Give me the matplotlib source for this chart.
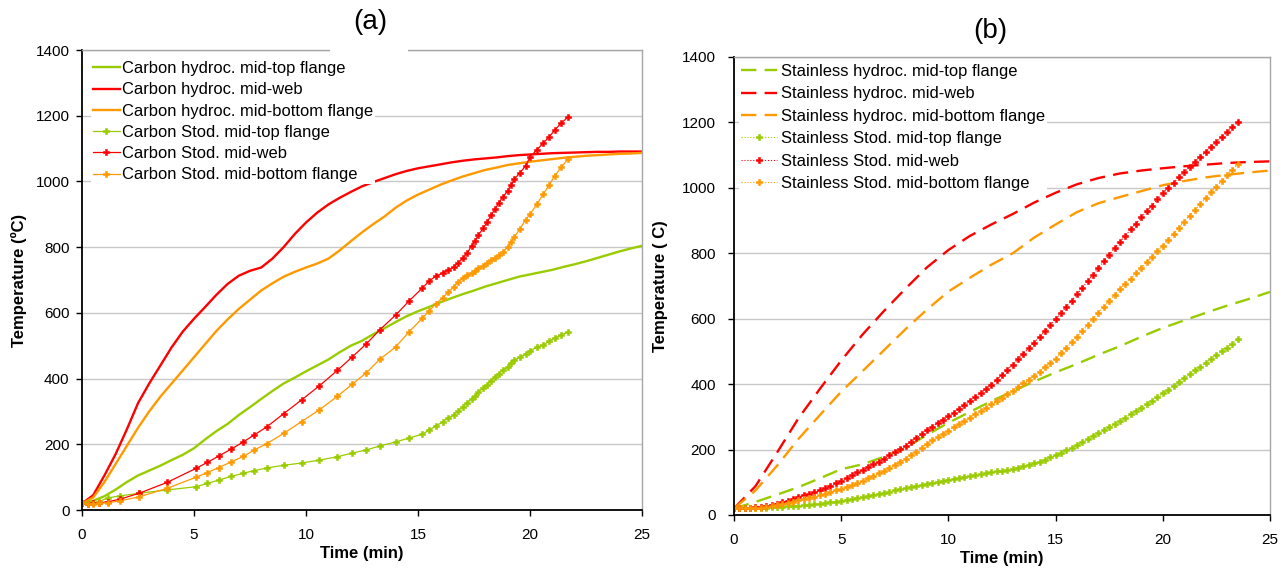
import numpy as np
import matplotlib
matplotlib.use("Agg")
import matplotlib.pyplot as plt
from matplotlib.patches import Rectangle

plt.rcParams['font.family'] = ['Liberation Sans', 'DejaVu Sans']

GREEN = '#99cc00'
RED = '#ff0000'
ORANGE = '#ff9900'

# ---- panel (a): carbon steel ----
# hydrocarbon fire curves, sampled every 0.5 min
t_hyd_a = np.arange(0, 25.01, 0.5)
carbon_hyd_top = [20, 28, 42, 62, 85, 105, 120, 135, 152, 168, 188, 215, 240, 262, 289, 313,
                  338, 362, 385, 403, 422, 440, 458, 480, 500, 515, 535, 553, 572, 590, 605,
                  618, 632, 645, 657, 668, 680, 690, 700, 710, 717, 724, 731, 740, 748, 757,
                  767, 777, 787, 796, 804]
carbon_hyd_web = [20, 45, 105, 170, 245, 325, 385, 440, 495, 543, 582, 618, 655, 688, 713, 728,
                  738, 765, 800, 840, 875, 905, 930, 950, 968, 985, 998, 1010, 1022, 1032, 1040,
                  1046, 1052, 1058, 1063, 1067, 1070, 1073, 1077, 1080, 1082, 1084, 1086, 1087,
                  1088, 1089, 1090, 1090, 1091, 1091, 1091]
carbon_hyd_bot = [20, 38, 85, 140, 195, 250, 300, 345, 385, 425, 465, 505, 545, 580, 612, 640,
                  668, 690, 710, 725, 738, 750, 765, 790, 818, 845, 870, 893, 920, 942, 960,
                  975, 990, 1003, 1015, 1025, 1035, 1042, 1050, 1055, 1060, 1064, 1068, 1072,
                  1075, 1078, 1080, 1082, 1084, 1085, 1087]

# Stod. (standard) fire curves, logged points
t_stod_a = [0, 0.25, 0.5, 0.75, 1.15, 1.7, 2.55, 3.8, 5.1, 5.6, 6.1, 6.65, 7.2, 7.7, 8.25,
            9.0, 9.8, 10.6, 11.4, 12.05, 12.7, 13.3, 14.0, 14.6, 15.2, 15.5, 15.8, 16.1,
            16.35, 16.6, 16.8, 17.0, 17.2, 17.4, 17.55, 17.7, 17.9, 18.1, 18.25, 18.45,
            18.6, 18.8, 19.0, 19.15, 19.3, 19.55, 19.8, 20.0, 20.3, 20.6, 20.85, 21.1,
            21.4, 21.7]
carbon_stod_top = [20, 20, 22, 25, 37, 43, 51, 61, 71, 81, 91, 102, 112, 120, 128, 136, 143,
                   152, 162, 173, 183, 195, 207, 219, 231, 243, 256, 268, 280, 289, 301, 313,
                   326, 338, 347, 359, 371, 380, 393, 405, 414, 426, 435, 447, 456, 465, 475,
                   484, 496, 502, 514, 523, 533, 542]
carbon_stod_web = [20, 18, 20, 22, 25, 33, 51, 84, 127, 145, 164, 185, 207, 229, 253, 293,
                   335, 378, 425, 465, 506, 549, 593, 636, 676, 697, 712, 721, 730, 740, 752,
                   766, 782, 805, 820, 837, 857, 877, 897, 916, 935, 953, 971, 989, 1007,
                   1026, 1047, 1074, 1096, 1117, 1135, 1156, 1178, 1196]
carbon_stod_bot = [20, 18, 18, 20, 22, 28, 40, 66, 100, 114, 129, 146, 163, 183, 202, 233,
                   269, 305, 346, 382, 418, 459, 496, 542, 584, 606, 628, 645, 663, 679, 694,
                   705, 715, 722, 728, 736, 744, 752, 760, 767, 776, 785, 800, 816, 831, 855,
                   883, 900, 930, 962, 989, 1016, 1044, 1068]

# ---- panel (b): stainless steel ----
t_hyd_b = np.arange(0, 25.01, 1.0)
stain_hyd_top = [20, 40, 62, 85, 112, 140, 155, 178, 205, 245, 282, 315, 348, 378, 408, 436,
                 462, 490, 516, 545, 572, 595, 618, 640, 660, 682]
stain_hyd_web = [20, 88, 190, 295, 385, 472, 552, 624, 692, 757, 810, 853, 888, 920, 955, 985,
                 1011, 1030, 1044, 1053, 1060, 1066, 1071, 1076, 1079, 1081]
stain_hyd_bot = [20, 75, 150, 232, 305, 377, 440, 504, 568, 628, 683, 725, 765, 800, 848, 888,
                 926, 953, 972, 990, 1008, 1021, 1032, 1040, 1047, 1053]

t_stod_b = np.arange(0, 23.51, 0.25)
stain_stod_top = [20, 20, 20, 21, 21, 22, 22, 23, 24, 25, 26, 27, 28, 30, 31, 33, 35, 37, 39,
                  41, 43, 46, 49, 52, 55, 58, 61, 65, 68, 71, 75, 78, 82, 85, 89, 92, 96, 99,
                  102, 105, 108, 111, 114, 117, 120, 122, 125, 127, 130, 133, 136, 139, 142,
                  145, 149, 153, 158, 163, 169, 176, 183, 190, 198, 205, 213, 222, 231, 240,
                  250, 259, 269, 278, 288, 298, 308, 318, 328, 339, 350, 361, 372, 383, 395,
                  406, 418, 430, 442, 453, 465, 477, 489, 500, 512, 524, 537]
stain_stod_web = [20, 20, 21, 22, 23, 25, 28, 31, 35, 39, 44, 49, 55, 60, 65, 70, 76, 83, 90,
                  97, 105, 113, 121, 130, 138, 146, 155, 163, 172, 182, 192, 202, 212, 223,
                  235, 247, 259, 270, 281, 291, 302, 313, 324, 336, 348, 360, 372, 385, 398,
                  413, 428, 444, 460, 476, 493, 510, 527, 544, 561, 580, 598, 617, 636, 655,
                  675, 695, 715, 735, 755, 775, 795, 815, 835, 854, 873, 891, 910, 928, 946,
                  965, 983, 999, 1016, 1032, 1048, 1064, 1079, 1095, 1110, 1125, 1140, 1155,
                  1170, 1185, 1200]
stain_stod_bot = [20, 20, 20, 21, 21, 22, 24, 27, 30, 33, 37, 41, 45, 49, 52, 56, 60, 65, 70,
                  75, 80, 86, 92, 98, 105, 112, 119, 127, 135, 144, 153, 162, 172, 183, 194,
                  206, 217, 228, 238, 248, 258, 268, 278, 288, 298, 308, 318, 328, 338, 348,
                  359, 369, 380, 391, 402, 413, 425, 438, 451, 464, 478, 494, 511, 528, 545,
                  563, 581, 600, 618, 636, 654, 672, 690, 706, 722, 739, 755, 772, 789, 806,
                  823, 841, 860, 878, 897, 915, 933, 950, 968, 986, 1003, 1021, 1038, 1056,
                  1073]

W, H = 1288, 574
fig = plt.figure(figsize=(W / 100, H / 100), dpi=100)
ax_a = fig.add_axes([82 / W, 1 - 510 / H, 560 / W, 460 / H])
ax_b = fig.add_axes([734 / W, 1 - 515 / H, 536 / W, 458 / H])


def style_axes(ax, ylabel, ypad, ylabelpad):
    ax.set_xlim(0, 25)
    ax.set_ylim(0, 1400)
    ax.set_xticks([0, 5, 10, 15, 20, 25])
    ax.set_yticks(range(0, 1401, 200))
    ax.grid(axis='y', color='#c8c8c8', linewidth=1.0)
    ax.set_axisbelow(True)
    for s in ['top', 'right']:
        ax.spines[s].set_color('#a6a6a6')
        ax.spines[s].set_linewidth(1.0)
    for s in ['left', 'bottom']:
        ax.spines[s].set_color('black')
        ax.spines[s].set_linewidth(1.3)
    ax.tick_params(direction='out', length=4, width=1.0, labelsize=11)
    ax.tick_params(axis='x', pad=9)
    ax.tick_params(axis='y', pad=ypad)
    ax.set_xlabel('Time (min)', fontsize=12, fontweight='bold', labelpad=3)
    ax.set_ylabel(ylabel, fontsize=12, fontweight='bold', labelpad=ylabelpad)


leg_style = dict(loc='upper left', bbox_to_anchor=(0.0, 1.0), fontsize=11.9, frameon=True,
                 facecolor='white', edgecolor='none', framealpha=1, fancybox=False,
                 borderpad=0.12)
mk = dict(marker='P', ms=4.5, mew=0.4)

# panel (a)
ax_a.plot(t_hyd_a, carbon_hyd_top, color=GREEN, lw=1.7, label='Carbon hydroc. mid-top flange')
ax_a.plot(t_hyd_a, carbon_hyd_web, color=RED, lw=1.7, label='Carbon hydroc. mid-web')
ax_a.plot(t_hyd_a, carbon_hyd_bot, color=ORANGE, lw=1.7, label='Carbon hydroc. mid-bottom flange')
ax_a.plot(t_stod_a, carbon_stod_top, color=GREEN, lw=0.9, label='Carbon Stod. mid-top flange', **mk)
ax_a.plot(t_stod_a, carbon_stod_web, color=RED, lw=0.9, label='Carbon Stod. mid-web', **mk)
ax_a.plot(t_stod_a, carbon_stod_bot, color=ORANGE, lw=0.9, label='Carbon Stod. mid-bottom flange', **mk)
style_axes(ax_a, 'Temperature (ºC)', 5, 6)
ax_a.legend(handlelength=1.6, handletextpad=0.15, labelspacing=0.38, borderaxespad=0.55,
            **leg_style)

# panel (b)
ax_b.plot(t_hyd_b, stain_hyd_top, color=GREEN, lw=1.7, dashes=(6.5, 3.5),
          label='Stainless hydroc. mid-top flange')
ax_b.plot(t_hyd_b, stain_hyd_web, color=RED, lw=1.7, dashes=(6.5, 3.5),
          label='Stainless hydroc. mid-web')
ax_b.plot(t_hyd_b, stain_hyd_bot, color=ORANGE, lw=1.7, dashes=(6.5, 3.5),
          label='Stainless hydroc. mid-bottom flange')
ax_b.plot(t_stod_b, stain_stod_top, color=GREEN, lw=0.8, ls=':',
          label='Stainless Stod. mid-top flange', **mk)
ax_b.plot(t_stod_b, stain_stod_web, color=RED, lw=0.8, ls=':',
          label='Stainless Stod. mid-web', **mk)
ax_b.plot(t_stod_b, stain_stod_bot, color=ORANGE, lw=0.8, ls=':',
          label='Stainless Stod. mid-bottom flange', **mk)
style_axes(ax_b, 'Temperature ( C)', 9, 10)
ax_b.legend(handlelength=2.2, handletextpad=0.2, labelspacing=0.45, borderaxespad=0.3,
            **leg_style)

# panel titles; (a) sits on a white box that breaks the top border
fig.patches.append(Rectangle((330 / W, 1 - 56 / H), 78 / W, 14 / H, transform=fig.transFigure,
                             facecolor='white', edgecolor='none', zorder=10))
fig.text(370 / W, 1 - 22 / H, '(a)', fontsize=20, ha='center', va='center', zorder=11)
fig.text(990 / W, 1 - 31 / H, '(b)', fontsize=20, ha='center', va='center', zorder=11)

fig.savefig('out.png', dpi=100)
